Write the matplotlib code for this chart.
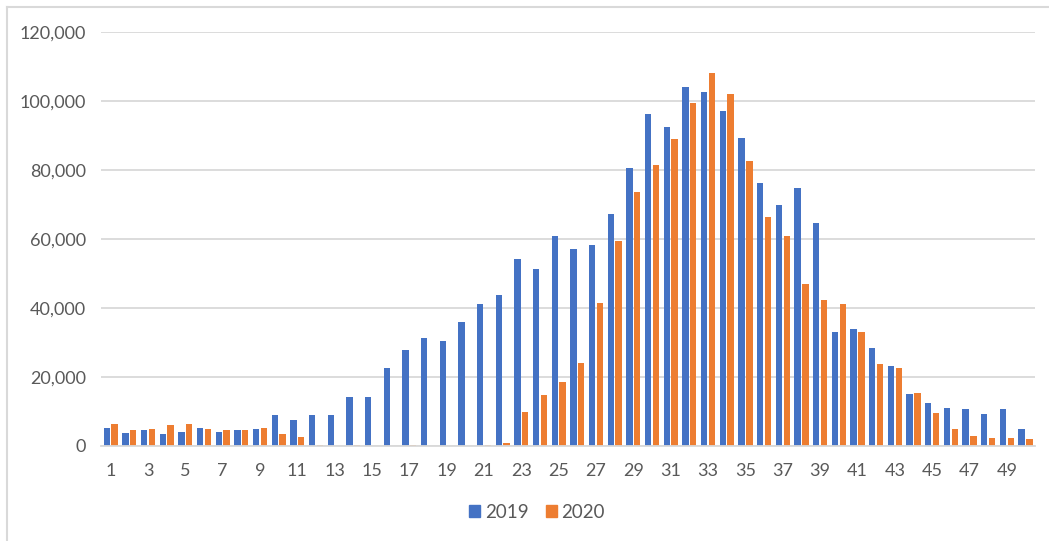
import matplotlib
matplotlib.use("Agg")
import matplotlib.pyplot as plt
import numpy as np
from matplotlib.lines import Line2D
from matplotlib.ticker import FuncFormatter

categories = list(range(1, 51))
series_names = ["2019", "2020"]
values_2019 = [5200, 3700, 4600, 3400, 4000, 5200, 4000, 4600, 4900, 9000,
               7600, 9000, 9000, 14300, 14300, 22600, 27900, 31200, 30500, 35900,
               41000, 43600, 54200, 51300, 60900, 57200, 58300, 67100, 80500, 96100,
               92500, 104000, 102500, 97000, 89300, 76300, 69800, 74800, 64700, 33100,
               34000, 28400, 23100, 15100, 12500, 11000, 10700, 9300, 10700, 4800]
values_2020 = [6400, 4600, 4900, 6100, 6400, 4900, 4600, 4600, 5200, 3600,
               2700, 400, 0, 400, 0, 0, 400, 0, 0, 0,
               300, 900, 9800, 14700, 18500, 24100, 41400, 59300, 73700, 81300,
               89000, 99300, 107900, 102000, 82600, 66200, 60700, 47000, 42300, 41200,
               33100, 23800, 22600, 15400, 9600, 4800, 3000, 2400, 2400, 2100]
x_tick_labels = [str(c) for c in categories]

BLUE = "#4472C4"
ORANGE = "#ED7D31"
GRID = "#D9D9D9"
TXT = "#595959"

plt.rcParams['font.family'] = ['Lato', 'DejaVu Sans']

W, H = 1049, 541
fig = plt.figure(figsize=(W / 100, H / 100), dpi=100)
left, right = 101.3 / W, 1034.8 / W
top, bottom = 1 - 31.7 / H, 1 - 446 / H
ax = fig.add_axes([left, bottom, right - left, top - bottom])

x = np.arange(len(categories))
bw = 0.34
off = 0.21
ax.bar(x - off, values_2019, width=bw, color=BLUE, label=series_names[0], zorder=3)
ax.bar(x + off, values_2020, width=bw, color=ORANGE, label=series_names[1], zorder=3)

ax.set_xlim(-0.5, len(categories) - 0.5)
ax.set_ylim(0, 120000)
ax.set_yticks(np.arange(0, 120001, 20000))
ax.yaxis.set_major_formatter(FuncFormatter(lambda v, p: f"{int(v):,}"))
ax.set_xticks(x[::2])
ax.set_xticklabels(x_tick_labels[::2])

ax.grid(axis='y', color=GRID, linewidth=1.3, zorder=0)
ax.set_axisbelow(True)
for s in ['top', 'right', 'left']:
    ax.spines[s].set_visible(False)
ax.spines['bottom'].set_color(GRID)
ax.spines['bottom'].set_linewidth(1.3)
ax.spines['bottom'].set_zorder(4)
ax.tick_params(axis='both', length=0, colors=TXT, labelsize=13)
ax.tick_params(axis='x', pad=12)
ax.tick_params(axis='y', pad=11)

handles = [plt.Rectangle((0, 0), 1, 1, color=BLUE), plt.Rectangle((0, 0), 1, 1, color=ORANGE)]
leg = fig.legend(handles, series_names, loc='center', bbox_to_anchor=(537 / W, 1 - 512 / H),
                 ncol=2, frameon=False, fontsize=13.5, handlelength=0.6, handleheight=0.6,
                 handletextpad=0.25, columnspacing=0.9)
for t in leg.get_texts():
    t.set_color(TXT)

# chart-area border (left and top visible)
fig.add_artist(Line2D([7 / W, 7 / W], [0, 1 - 7 / H], transform=fig.transFigure, color=GRID, linewidth=1.5))
fig.add_artist(Line2D([7 / W, 1], [1 - 7 / H, 1 - 7 / H], transform=fig.transFigure, color=GRID, linewidth=1.5))

fig.savefig("out.png", dpi=100)
